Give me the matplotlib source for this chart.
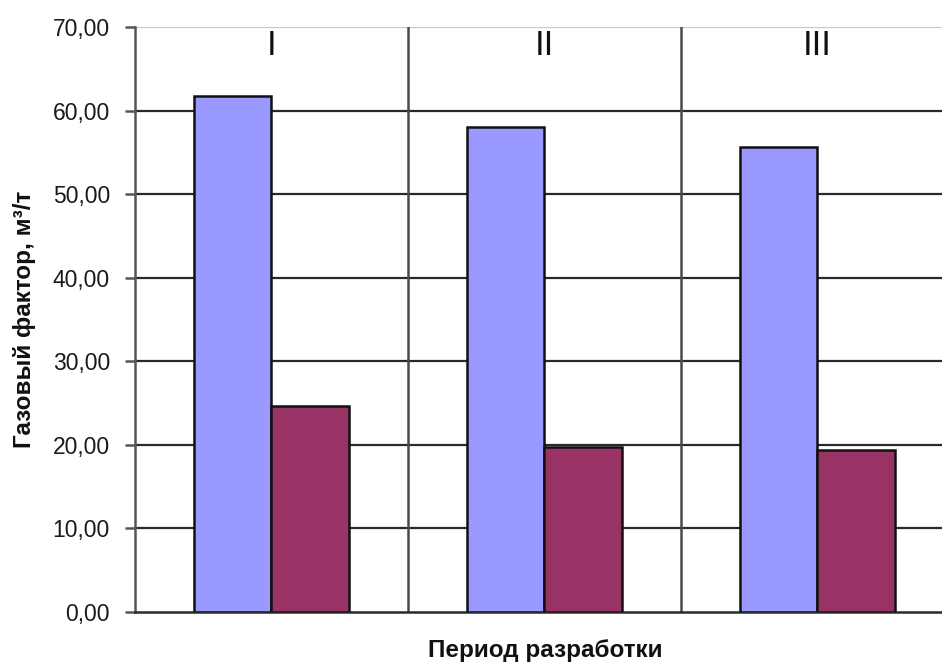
import matplotlib
matplotlib.use("Agg")
import matplotlib.pyplot as plt
import numpy as np

periods = ["I", "II", "III"]
series_a = [61.7, 58.0, 55.6]
series_b = [24.6, 19.8, 19.4]
y_ticks = [0, 10, 20, 30, 40, 50, 60, 70]
y_label = "Газовый фактор, м³/т"
x_label = "Период разработки"

plt.rcParams["font.family"] = ["Liberation Sans", "DejaVu Sans"]

fig = plt.figure(figsize=(9.42, 6.64), dpi=100)
ax = fig.add_axes([0.1433, 0.0783, 0.8694, 0.881])

x = np.arange(len(periods))
w = 0.284

# horizontal gridlines
for t in y_ticks[1:-1]:
    ax.axhline(t, color="#2a2a2a", lw=1.6, zorder=1)
ax.axhline(y_ticks[-1], color="#c8c8c8", lw=1.6, zorder=1)

# separators between development periods
for s in x[:-1] + 0.5:
    ax.axvline(s, color="#4a4a4a", lw=1.8, zorder=1)

ax.bar(x - w / 2, series_a, width=w, color="#9999FF", edgecolor="#111111",
       linewidth=1.8, zorder=3)
ax.bar(x + w / 2, series_b, width=w, color="#993366", edgecolor="#111111",
       linewidth=1.8, zorder=3)

for xi, name in zip(x, periods):
    ax.text(xi, 0.952, name, transform=ax.get_xaxis_transform(),
            ha="center", va="baseline", fontsize=25, color="#111111")

ax.set_xlim(-0.5, len(periods) - 0.5)
ax.set_ylim(y_ticks[0], y_ticks[-1])
ax.set_yticks(y_ticks)
ax.set_yticklabels([f"{t:.2f}".replace(".", ",") for t in y_ticks],
                   fontsize=16.5, color="#1a1a1a")
ax.tick_params(axis="y", direction="out", length=7, width=1.8,
               color="#555555", pad=11)
ax.set_xticks([])

for side in ("top", "right"):
    ax.spines[side].set_visible(False)
ax.spines["left"].set_color("#555555")
ax.spines["left"].set_linewidth(1.8)
ax.spines["bottom"].set_color("#2a2a2a")
ax.spines["bottom"].set_linewidth(1.8)

fig.text(25 / 942, 1 - 319.5 / 664, y_label, rotation=90, ha="center",
         va="center", fontsize=17.5, fontweight="bold", color="#111111")
fig.text(545 / 942, 1 - 651 / 664, x_label, ha="center", va="center",
         fontsize=17.5, fontweight="bold", color="#111111")

fig.savefig("out.png", dpi=100, facecolor="white")
